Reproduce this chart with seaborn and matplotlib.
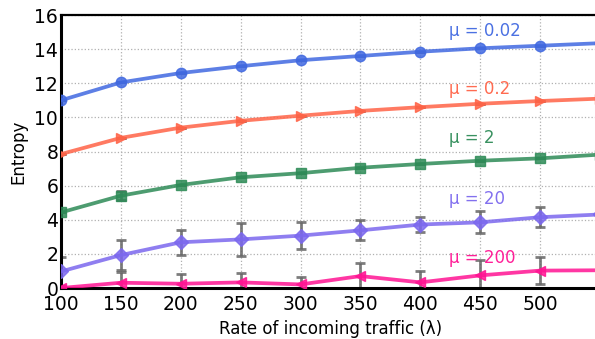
import matplotlib
matplotlib.use("Agg")
import matplotlib.pyplot as plt
import seaborn as sns
import numpy as np

rates = [100, 150, 200, 250, 300, 350, 400, 450, 500, 550]
labels = ["μ = 0.02", "μ = 0.2", "μ = 2", "μ = 20", "μ = 200"]
ent_002 = [11.0, 12.05, 12.6, 13.0, 13.35, 13.6, 13.85, 14.05, 14.2, 14.35]
ent_02 = [7.85, 8.8, 9.4, 9.8, 10.1, 10.38, 10.6, 10.8, 10.96, 11.1]
ent_2 = [4.43, 5.41, 6.04, 6.49, 6.73, 7.05, 7.27, 7.46, 7.6, 7.82]
ent_20 = [0.97, 1.93, 2.68, 2.85, 3.07, 3.38, 3.72, 3.85, 4.15, 4.31]
ent_200 = [0.0, 0.31, 0.25, 0.33, 0.21, 0.7, 0.33, 0.74, 1.02, 1.04]
err_002 = [0.0] * 10
err_02 = [0.0] * 10
err_2 = [0.0, 0.25, 0.0, 0.0, 0.0, 0.0, 0.0, 0.0, 0.0, 0.0]
err_20 = [0.85, 0.9, 0.74, 0.96, 0.8, 0.58, 0.44, 0.65, 0.58, 0.5]
err_200 = [0.0, 0.65, 0.57, 0.57, 0.42, 0.75, 0.65, 0.93, 0.8, 0.7]
label_pos = [(424, 15.05), (424, 11.65), (424, 8.8), (424, 5.2), (424, 1.75)]

series = [ent_002, ent_02, ent_2, ent_20, ent_200]
errs = [err_002, err_02, err_2, err_20, err_200]
colors = ["#4169E1", "#FF6347", "#2E8B57", "#7B68EE", "#FF1493"]
markers = ["o", ">", "s", "D", "<"]
msizes = [7.5, 7.5, 7, 7.5, 7.5]

sns.set_style("white")
plt.rcParams['font.family'] = ['DejaVu Sans']

fig = plt.figure(figsize=(5.95, 3.39), dpi=100)
ax = fig.add_axes([0.1025, 0.1504, 0.906, 0.8053])

for y, e, c, m, ms, lab, (tx, ty) in zip(series, errs, colors, markers, msizes, labels, label_pos):
    ax.errorbar(rates, y, yerr=e, fmt="none", ecolor="#666666", alpha=0.85,
                elinewidth=2, capsize=3.5, capthick=2, zorder=2)
    sns.lineplot(x=rates, y=y, ax=ax, color=c, marker=m, markersize=ms,
                 markeredgecolor=c, markeredgewidth=1, linewidth=2.7,
                 alpha=0.85, zorder=3)
    ax.text(tx, ty, lab, color=c, fontsize=12, va="center", ha="left", alpha=0.95)

ax.set_xlim(100, 550)
ax.set_ylim(0, 16)
ax.set_xticks([100, 150, 200, 250, 300, 350, 400, 450, 500])
ax.set_yticks([0, 2, 4, 6, 8, 10, 12, 14, 16])
ax.tick_params(axis="both", labelsize=13.5, length=0, labelcolor="black")
ax.tick_params(axis="x", pad=5)
ax.tick_params(axis="y", pad=2)
ax.set_xlabel("Rate of incoming traffic (λ)", fontsize=12, labelpad=4, color="black")
ax.set_ylabel("Entropy", fontsize=12, labelpad=5, color="black")
ax.grid(True, linestyle=":", color="#b0b0b0", linewidth=0.9)
for s in ["left", "bottom"]:
    ax.spines[s].set_linewidth(2.2)
    ax.spines[s].set_color("black")
ax.spines["top"].set_linewidth(1.6)
ax.spines["top"].set_color("black")
ax.spines["right"].set_visible(False)

fig.savefig("out.png", dpi=100)
